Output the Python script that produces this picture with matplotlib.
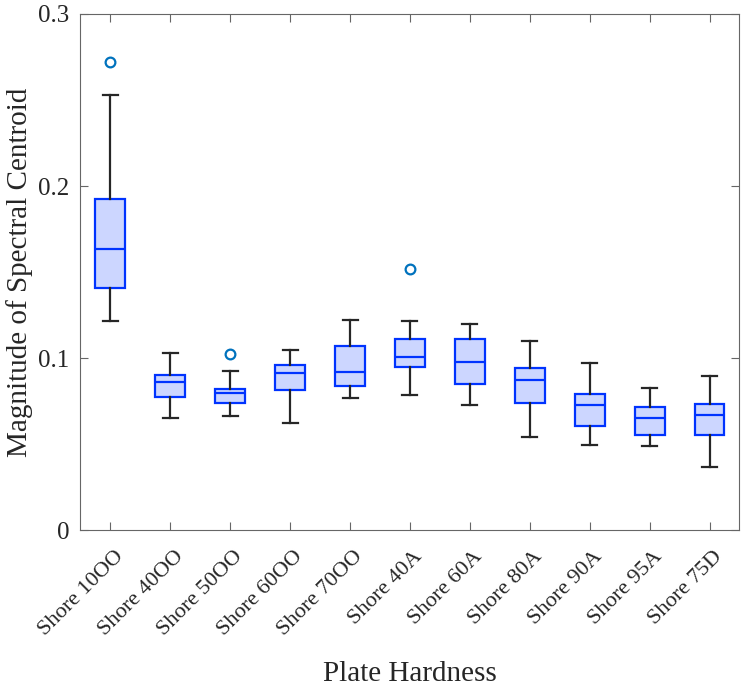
import matplotlib
matplotlib.use("Agg")
import matplotlib.pyplot as plt
from matplotlib.transforms import ScaledTranslation

categories = ["Shore 10OO", "Shore 40OO", "Shore 50OO", "Shore 60OO", "Shore 70OO",
              "Shore 40A", "Shore 60A", "Shore 80A", "Shore 90A", "Shore 95A", "Shore 75D"]
whisk_lo = [0.1214, 0.0654, 0.0666, 0.0625, 0.0771, 0.0788, 0.0730, 0.0542, 0.0495, 0.0489, 0.0371]
q1       = [0.1408, 0.0773, 0.0738, 0.0816, 0.0841, 0.0950, 0.0852, 0.0738, 0.0608, 0.0555, 0.0552]
median   = [0.1635, 0.0860, 0.0796, 0.0913, 0.0918, 0.1008, 0.0979, 0.0872, 0.0728, 0.0654, 0.0672]
q3       = [0.1924, 0.0903, 0.0821, 0.0959, 0.1072, 0.1113, 0.1115, 0.0942, 0.0794, 0.0718, 0.0736]
whisk_hi = [0.2528, 0.1031, 0.0928, 0.1047, 0.1223, 0.1216, 0.1200, 0.1099, 0.0975, 0.0827, 0.0897]
outliers = [[0.2719], [], [0.1027], [], [], [0.1519], [], [], [], [], []]
yticks = [0, 0.1, 0.2, 0.3]
ytick_labels = ["0", "0.1", "0.2", "0.3"]

plt.rcParams['font.family'] = ['Liberation Serif', 'DejaVu Serif']

fig = plt.figure(figsize=(7.48, 6.92), dpi=100)
ax = fig.add_axes([0.1076, 0.2334, 0.881, 0.7464])

edge = '#0033FF'
face = '#CCD6FF'
whisk = '#262626'
outc = '#0072BD'
textc = '#262626'
axc = '#666666'

stats = []
for i, c in enumerate(categories):
    stats.append(dict(label=c, whislo=whisk_lo[i], q1=q1[i], med=median[i],
                      q3=q3[i], whishi=whisk_hi[i], fliers=outliers[i]))

positions = list(range(1, len(categories) + 1))
ax.bxp(stats, positions=positions, widths=0.5, patch_artist=True, showfliers=True,
       boxprops=dict(facecolor=face, edgecolor=edge, linewidth=1.6),
       medianprops=dict(color=edge, linewidth=1.6),
       whiskerprops=dict(color=whisk, linewidth=1.6),
       capprops=dict(color=whisk, linewidth=1.6),
       capwidths=0.25,
       flierprops=dict(marker='o', markerfacecolor='none', markeredgecolor=outc,
                       markersize=7, markeredgewidth=1.6),
       zorder=3)

ax.set_xlim(0.5, len(categories) + 0.5)
ax.set_ylim(0, 0.3)
ax.set_yticks(yticks)
ax.set_yticklabels(ytick_labels)
ax.set_xticks(positions)
ax.set_xticklabels(categories, rotation=45, ha='right', va='center', rotation_mode='anchor')

ax.tick_params(direction='in', length=6, width=0.8, color=axc, labelcolor=textc,
               top=True, right=True)
ax.tick_params(axis='y', pad=8, labelsize=18)
ax.tick_params(axis='x', pad=17, labelsize=16)
for s in ax.spines.values():
    s.set_color(axc)
    s.set_linewidth(0.8)

off = ScaledTranslation(10 / 100, 0, fig.dpi_scale_trans)
for lbl in ax.get_xticklabels():
    lbl.set_transform(lbl.get_transform() + off)

ax.set_xlabel("Plate Hardness", fontsize=21, labelpad=15, color=textc)
ax.set_ylabel("Magnitude of Spectral Centroid", fontsize=21, labelpad=3.5, color=textc)

fig.savefig("out.png", dpi=100)
